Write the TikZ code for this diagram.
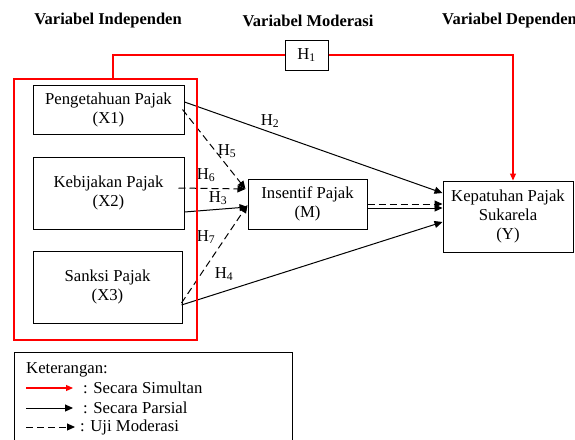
\documentclass[tikz,border=0pt]{standalone}
\usepackage{fontspec}
\setmainfont{Liberation Serif}
\usetikzlibrary{positioning,arrows.meta,calc}
\definecolor{mRed}{HTML}{FF0000}

\begin{document}
\begin{tikzpicture}[x=1pt, y=-1pt, font=\fontsize{16.7}{19}\selectfont,
  varbox/.style={draw, line width=1pt, align=center, inner sep=0pt},
  hlab/.style={inner sep=0pt},
  judul/.style={font=\fontsize{16.5}{19}\selectfont\bfseries},
  legtext/.style={anchor=west, inner sep=0pt},
  parsial/.style={-{Triangle[length=8pt,width=7pt]}, line width=1pt},
  moderasi/.style={parsial, dash pattern=on 7pt off 4pt},
  simultan/.style={-{Triangle[length=7pt,width=6pt]}, draw=mRed, line width=1.2pt}]
\useasboundingbox (0,0) rectangle (575,439);
% judul kolom
\node[judul] (tInd) at (108,21) {Variabel Independen};
\node[judul] (tMod) at (308,21) {Variabel Moderasi};
\node[judul, anchor=west, inner sep=0pt] (tDep) at (442,21) {Variabel Dependen};
% variabel
\node[varbox, minimum width=151pt, minimum height=49pt] (x1) at (108.5,109.5) {Pengetahuan Pajak\\(X1)};
\node[varbox, minimum width=151pt, minimum height=72pt] (x2) at (108.5,193) {Kebijakan Pajak\\(X2)};
\node[varbox, minimum width=149pt, minimum height=72pt] (x3) at (107.5,287) {Sanksi Pajak\\(X3)};
\node[varbox, minimum width=119pt, minimum height=50pt] (m) at (307.5,204) {Insentif Pajak\\(M)};
\node[varbox, minimum width=130pt, minimum height=71pt] (y) at (508,216.5) {Kepatuhan Pajak\\Sukarela\\(Y)};
\node[varbox, minimum width=43pt, minimum height=30pt] (h1) at (306.5,55) {H\textsubscript{1}};
% hipotesis parsial dan moderasi
\draw[parsial] ($(x1.east)+(0,-7.5)$) -- ($(y.west)+(0,-23.5)$);
\draw[moderasi] ($(x1.east)+(-2,0)$) -- ($(m.west)+(-2,-15)$);
\draw[moderasi] ($(x2.east)+(-6,-5)$) -- ($(m.west)+(-2,-15)$);
\draw[parsial] ($(x2.east)+(0,19)$) -- ($(m.west)+(0,3)$);
\draw[moderasi] ($(x3.east)+(-1,16)$) -- ($(m.west)+(0,1)$);
\draw[parsial] ($(x3.east)+(-1,18)$) -- ($(y.west)+(0,5.5)$);
\draw[moderasi] (m.east) -- ($(y.west)+(0,-12.5)$);
\draw[parsial] ($(m.east)+(0,4)$) -- ($(y.west)+(0,-8.5)$);
\node[hlab] (lh2) at (270,121) {H\textsubscript{2}};
\node[hlab] (lh5) at (227,151) {H\textsubscript{5}};
\node[hlab] (lh6) at (206,175) {H\textsubscript{6}};
\node[hlab] (lh3) at (218,198) {H\textsubscript{3}};
\node[hlab] (lh7) at (206,237) {H\textsubscript{7}};
\node[hlab] (lh4) at (224,274) {H\textsubscript{4}};
% simultan
\node[draw=mRed, line width=2.8pt, minimum width=183pt, minimum height=261pt] (grp) at (105.5,209.5) {};
\draw[draw=mRed, line width=1.2pt] (h1.west) -| ($(grp.north)+(7.5,0)$);
\draw[simultan] (h1.east) -| ($(y.north)+(5,0)$);
% keterangan
\node[draw, line width=1pt, anchor=north west, minimum width=278pt, minimum height=120pt] (leg) at (14,352) {};
\node[legtext] (ket) at (26,370) {Keterangan:};
\node[legtext] (lsim) at (83,388) {: Secara Simultan};
\node[legtext] (lpar) at (83,408) {: Secara Parsial};
\node[legtext] (lmod) at (80,427) {: Uji Moderasi};
\draw[simultan] ($(lsim.west)+(-57,0)$) -- ($(lsim.west)+(-10,0)$);
\draw[parsial] ($(lpar.west)+(-57,0)$) -- ($(lpar.west)+(-10,0)$);
\draw[moderasi] ($(lmod.west)+(-54,0)$) -- ($(lmod.west)+(-5,0)$);
\end{tikzpicture}
\end{document}
